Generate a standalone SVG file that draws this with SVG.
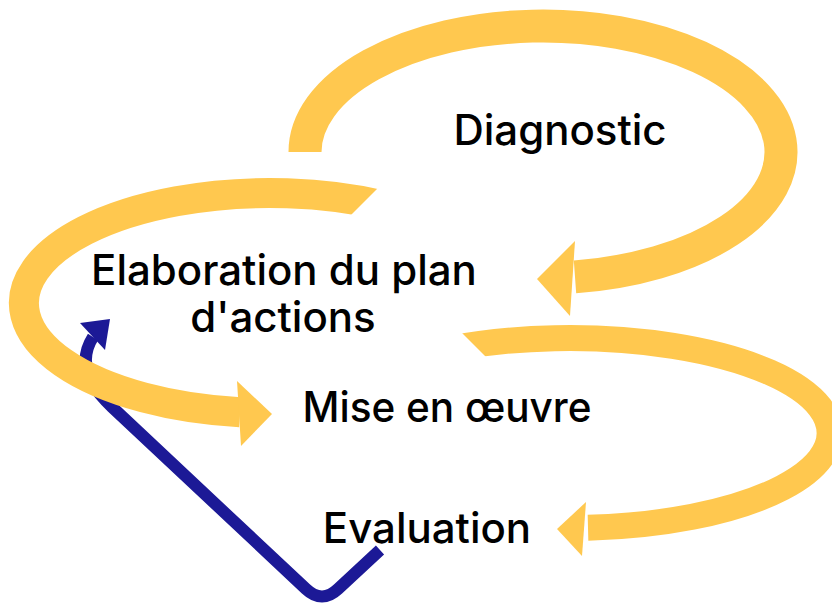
<svg xmlns="http://www.w3.org/2000/svg" width="832" height="603" viewBox="0 0 832 603">
<style>
.band{fill:none;stroke:#FFC84F;stroke-linecap:butt}
.head{fill:#FFC84F}
.blue{fill:none;stroke:#1C1996;stroke-width:12;stroke-linejoin:round}
.bluehead{fill:#1C1996}
.lbl{font-family:Inter,"Liberation Sans",sans-serif;font-weight:500;font-size:42px;fill:#000;text-anchor:middle}
</style>
<defs>
  <clipPath id="cut2"><polygon points="0,0 566,0 300,266 300,603 0,603"/></clipPath>
  <clipPath id="cut3"><polygon points="400,271 832,271 832,603 300,603 300,400 529,400"/></clipPath>
</defs>
<rect width="832" height="603" fill="#fff"/>
<g id="connectors">
  <g id="eval-to-plan">
    <path class="blue" d="M380,550 L338,589 Q322,604 306,589 L112,407 Q72,370 93,337"/>
    <polygon class="bluehead" points="110,319 80,323 105,350"/>
  </g>
  <g id="diag-to-plan">
    <path class="band" stroke-width="33" d="M305,152 A238 126 0 1 1 575,276.85"/>
    <polygon class="head" points="537,279 575,241 570,316"/>
  </g>
  <g id="plan-to-mise">
    <path class="band" stroke-width="30" clip-path="url(#cut2)" d="M385,205.8 A246 110 0 1 0 240,412.2"/>
    <polygon class="head" points="272,414 237,381 241,446"/>
  </g>
  <g id="mise-to-eval">
    <path class="band" stroke-width="26" clip-path="url(#cut3)" d="M450,348.7 A260 95 0 1 1 588,527.8"/>
    <polygon class="head" points="557,529 586,502 582,556"/>
  </g>
</g>
<g id="node-diagnostic"><text class="lbl" x="560" y="145">Diagnostic</text></g>
<g id="node-plan"><text class="lbl" x="284" y="285">Elaboration du plan</text><text class="lbl" x="283" y="332">d'actions</text></g>
<g id="node-mise"><text class="lbl" x="447" y="422" textLength="289" lengthAdjust="spacingAndGlyphs">Mise en œuvre</text></g>
<g id="node-eval"><text class="lbl" x="427" y="543">Evaluation</text></g>
</svg>
